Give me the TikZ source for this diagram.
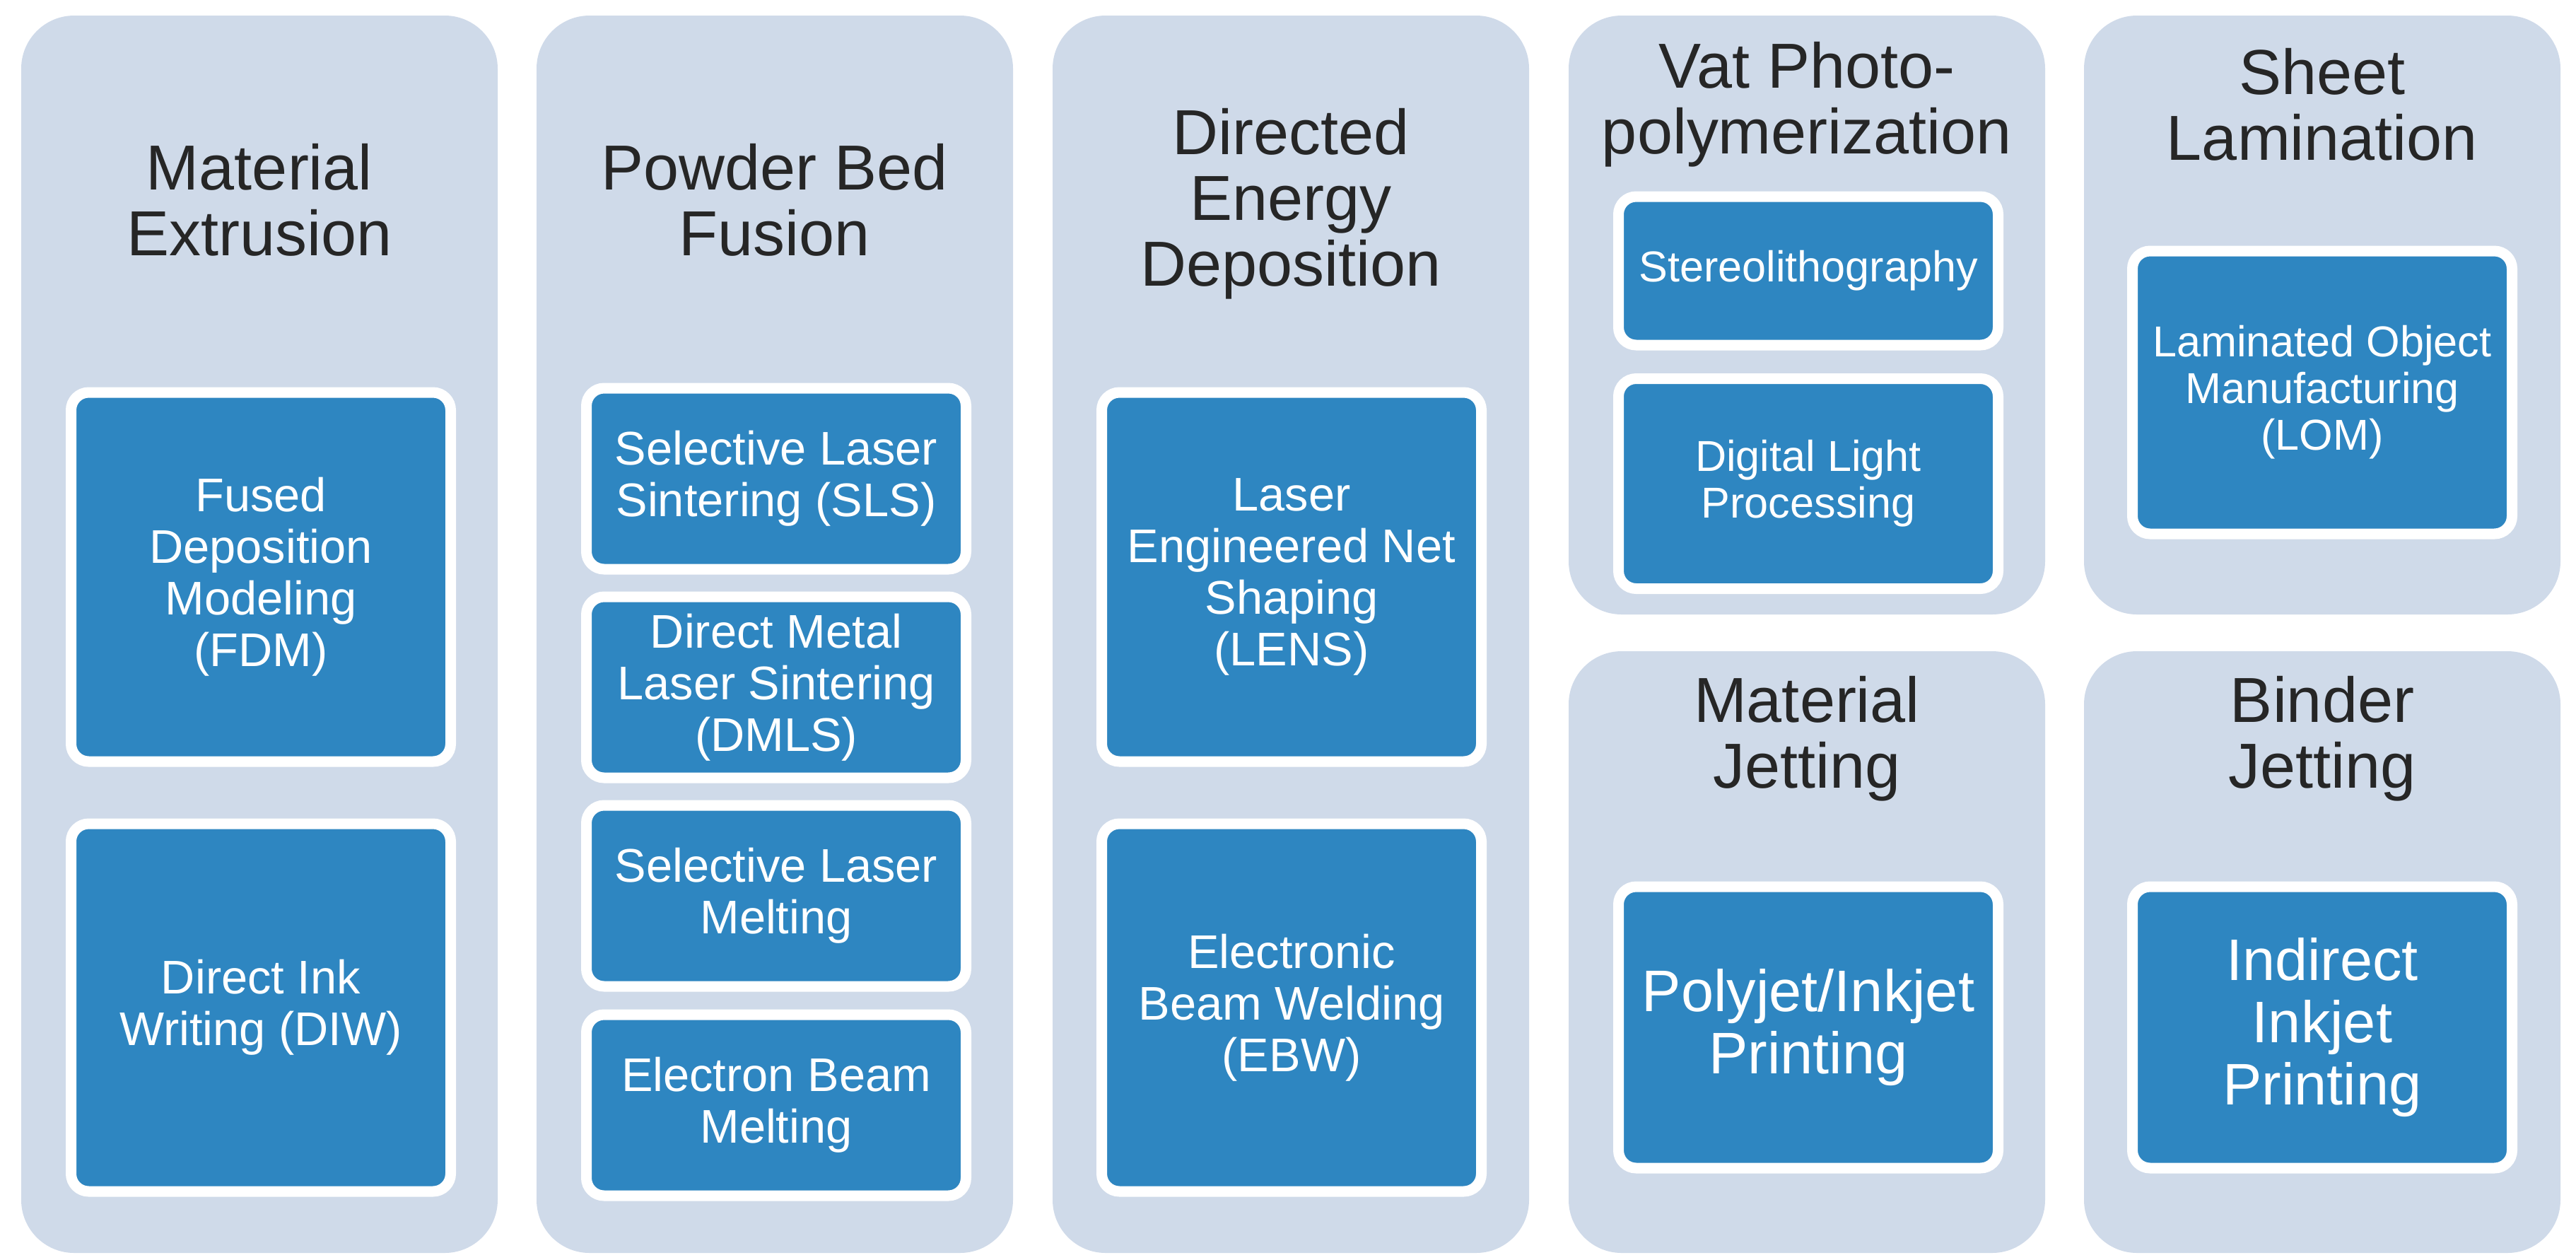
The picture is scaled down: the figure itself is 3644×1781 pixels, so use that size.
\documentclass[tikz,border=0pt]{standalone}
\usepackage{fontspec}
\setmainfont{Liberation Sans}
\usepackage{tikz}

\definecolor{panelblue}{RGB}{207,218,233}
\definecolor{boxblue}{RGB}{46,134,193}
\definecolor{titlegray}{RGB}{38,38,38}

\begin{document}
\begin{tikzpicture}[x=0.1mm,y=-0.1mm,
    panel/.style={fill=panelblue,rounded corners=7.5mm},
    title/.style={align=center,text=titlegray,inner sep=0pt,font=\fontsize{25.6}{26.5}\selectfont},
    proc/.style={draw=white,line width=1.5mm,fill=boxblue,rounded corners=2.5mm,text=white,align=center,
                 minimum width=53.7mm,font=\fontsize{19}{20.8}\selectfont},
    smalltext/.style={font=\fontsize{17.4}{18.8}\selectfont},
    bigtext/.style={font=\fontsize{23.6}{25}\selectfont}]
    \useasboundingbox (0,0) rectangle (3644,1781);

    % the seven groups
    \fill[panel] (30,22) rectangle (704,1772);
    \fill[panel] (759,22) rectangle (1433,1772);
    \fill[panel] (1489,22) rectangle (2163,1772);
    \fill[panel] (2219,22) rectangle (2893,869);
    \fill[panel] (2948,22) rectangle (3622,869);
    \fill[panel] (2219,921) rectangle (2893,1772);
    \fill[panel] (2948,921) rectangle (3622,1772);

    \node[title] (extr) at (367,283) {Material\\Extrusion};
    \node[title] (pbf) at (1096,283) {Powder Bed\\Fusion};
    \node[title] (ded) at (1826,288) {Directed\\Energy\\Deposition};
    \node[title] (vat) at (2556,148) {Vat Photo-\\polymerization};
    \node[title] (sheet) at (3285,148) {Sheet\\Lamination};
    \node[title] (mjet) at (2556,1045) {Material\\Jetting};
    \node[title] (bjet) at (3285,1045) {Binder\\Jetting};

    % processes
    \node[proc,minimum height=52.2mm] (fdm) at (369,816) {Fused\\Deposition\\Modeling\\(FDM)};
    \node[proc,minimum height=52mm] (diw) at (369,1425) {Direct Ink\\Writing (DIW)};

    \node[proc,minimum height=25.6mm] (sls) at (1098,677) {Selective Laser\\Sintering (SLS)};
    \node[proc,minimum height=25.6mm] (dmls) at (1098,972) {Direct Metal\\Laser Sintering\\(DMLS)};
    \node[proc,minimum height=25.6mm] (slm) at (1098,1267) {Selective Laser\\Melting};
    \node[proc,minimum height=25.6mm] (ebm) at (1098,1563) {Electron Beam\\Melting};

    \node[proc,minimum height=52.2mm] (lens) at (1827,816) {Laser\\Engineered Net\\Shaping\\(LENS)};
    \node[proc,minimum height=52mm] (ebw) at (1827,1425) {Electronic\\Beam Welding\\(EBW)};

    \node[proc,smalltext,minimum height=21mm] (sla) at (2558,383) {Stereolithography};
    \node[proc,smalltext,minimum height=29.7mm] (dlp) at (2558,684) {Digital Light\\Processing};
    \node[proc,smalltext,minimum height=40mm] (lom) at (3285,555) {Laminated Object\\Manufacturing\\(LOM)};

    \node[proc,bigtext,minimum height=39.8mm] (poly) at (2558,1453) {Polyjet/Inkjet\\Printing};
    \node[proc,bigtext,minimum height=39.8mm] (inkj) at (3285,1453) {Indirect\\Inkjet\\Printing};
\end{tikzpicture}
\end{document}
